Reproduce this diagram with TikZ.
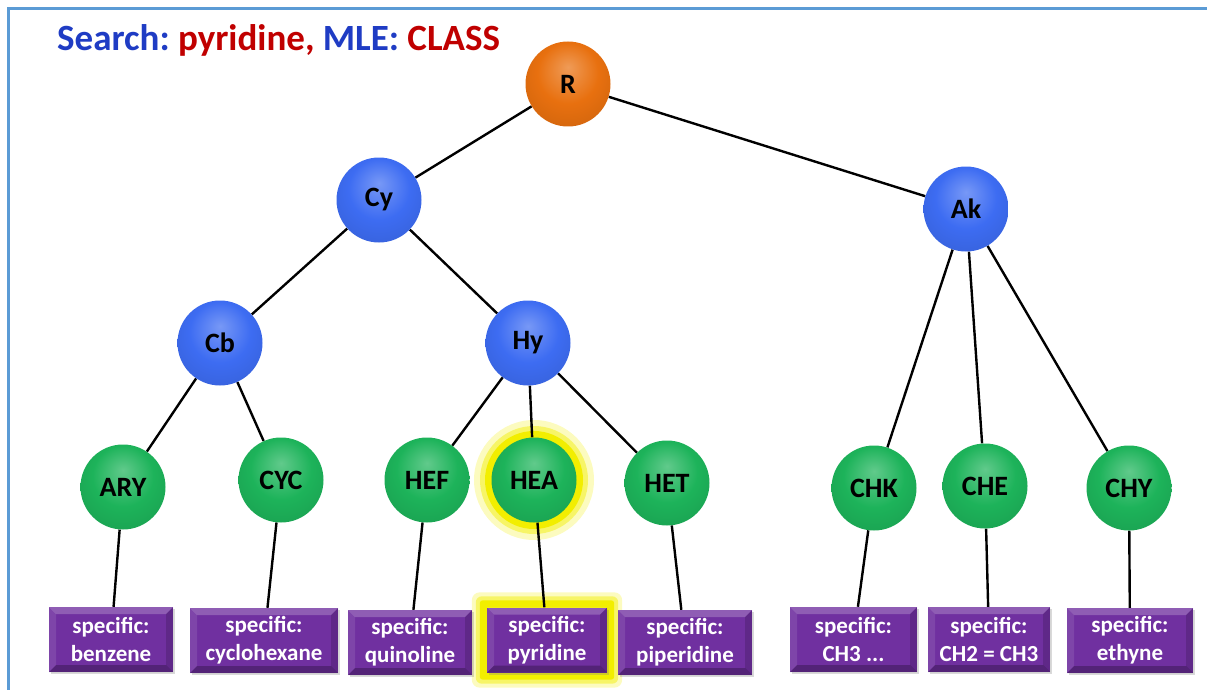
\documentclass[tikz,border=0pt]{standalone}
\usepackage{fontspec}
\setmainfont{Carlito}
\usepackage{tikz}
\usetikzlibrary{positioning,shadows,backgrounds}
\definecolor{tblue}{HTML}{1F3CC4}
\definecolor{tred}{HTML}{C00000}
\definecolor{frameblue}{HTML}{5B9BD5}
\definecolor{sorange}{HTML}{E8700F}
\definecolor{sblue}{HTML}{3D6CF2}
\definecolor{sgreen}{HTML}{1DB35A}
\definecolor{spurple}{HTML}{7030A0}
\definecolor{glow}{HTML}{F2EE00}
\makeatletter
\pgfdeclareradialshading[tikz@ball]{glossy}{\pgfqpoint{0bp}{10bp}}{%
  color(0bp)=(tikz@ball!70!white); color(18bp)=(tikz@ball);
  color(30bp)=(tikz@ball!92!black); color(36bp)=(tikz@ball!82!black);
  color(50bp)=(tikz@ball!82!black)}
\makeatother
\frenchspacing
\tikzset{
  % Glossy sphere for the class nodes.
  sphere/.style  = {circle, minimum size=85pt, inner sep=0pt, ball color=#1, shading=glossy,
                    font=\fontsize{28}{28}\selectfont\bfseries},
  sphere/.default = sgreen,
  % Bevelled purple box for the specific leaves.
  leafbox/.style = {rectangle, fill=spurple, minimum width=#1pt, minimum height=65pt,
                    inner sep=3pt, align=center, text=white,
                    font=\fontsize{23}{28}\selectfont\bfseries,
                    drop shadow={opacity=0.3, shadow xshift=2pt, shadow yshift=-2pt},
                    path picture={
                      \coordinate (bnw) at (path picture bounding box.north west);
                      \coordinate (bne) at (path picture bounding box.north east);
                      \coordinate (bsw) at (path picture bounding box.south west);
                      \coordinate (bse) at (path picture bounding box.south east);
                      \fill[white, opacity=0.22] (bnw) -- (bne) -- ([shift={(-7pt,-7pt)}]bne)
                        -- ([shift={(7pt,-7pt)}]bnw) -- cycle;
                      \fill[white, opacity=0.10] (bnw) -- ([shift={(7pt,-7pt)}]bnw)
                        -- ([shift={(7pt,7pt)}]bsw) -- (bsw) -- cycle;
                      \fill[black, opacity=0.15] (bne) -- (bse) -- ([shift={(-7pt,7pt)}]bse)
                        -- ([shift={(-7pt,-7pt)}]bne) -- cycle;
                      \fill[black, opacity=0.25] (bsw) -- (bse) -- ([shift={(-7pt,7pt)}]bse)
                        -- ([shift={(7pt,7pt)}]bsw) -- cycle;
                    }},
  link/.style    = {line width=2.4pt, black},
}

\begin{document}
\begin{tikzpicture}[x=1pt,y=-1pt]
\useasboundingbox (0,0) rectangle (1207,690);
\draw[frameblue, line width=3pt] (1207,9) -- (8,9) -- (8,690);
% title
\node[anchor=base west, inner sep=0pt, font=\fontsize{37}{37}\selectfont\bfseries] (title) at (57,51)
  {\textcolor{tblue}{Search:} \textcolor{tred}{pyridine,} \textcolor{tblue}{MLE:} \textcolor{tred}{CLASS}};
% upper levels
\node[sphere=sorange] (r)  at (568,84)  {R};
\node[sphere=sblue]   (cy) at (379,200) {Cy};
\node[sphere=sblue]   (ak) at (966,209) {Ak};
\node[sphere=sblue]   (cb) at (220,343) {Cb};
\node[sphere=sblue]   (hy) at (528,343) {Hy};
% classes
\foreach \nm/\lbl/\x/\y in {ary/ARY/123/487, cyc/CYC/281/480, hef/HEF/427/480, hea/HEA/534/480,
                            het/HET/667/483, chk/CHK/874/488, che/CHE/985/486, chy/CHY/1129/488}
  {\node[sphere] (\nm) at (\x,\y) {\lbl};}
% specific leaves
\foreach \nm/\txt/\x/\y/\w in {benz/benzene/111/639.5/124, chex/cyclohexane/264/640.5/148,
                               quin/quinoline/410/642.5/124, pyr/pyridine/547/640/120,
                               pip/piperidine/685/642.5/134, meth/{CH3 ...}/853.5/639.5/127,
                               eth/{CH2 = CH3}/989/639.5/122, yne/ethyne/1130/640.5/126}
  {\node[leafbox=\w] (\nm) at (\x,\y) {specific:\\\txt};}
\begin{scope}[on background layer]
% search hit
\fill[glow!25] (hea) circle (60pt);
\fill[glow!60] (hea) circle (54pt);
\fill[glow]    (hea) circle (49pt);
\fill[glow!25, rounded corners=8pt] ([shift={(-15pt,15pt)}]pyr.north west) rectangle ([shift={(15pt,-15pt)}]pyr.south east);
\fill[glow!60, rounded corners=6pt] ([shift={(-11pt,11pt)}]pyr.north west) rectangle ([shift={(11pt,-11pt)}]pyr.south east);
\fill[glow, rounded corners=3pt]    ([shift={(-7pt,7pt)}]pyr.north west) rectangle ([shift={(7pt,-7pt)}]pyr.south east);
% tree
\foreach \a/\b in {r/cy, r/ak, cy/cb, cy/hy, cb/ary, cb/cyc, hy/hef, hy/hea, hy/het,
                   ak/chk, ak/che, ak/chy, ary/benz, cyc/chex, hef/quin, hea/pyr,
                   het/pip, chk/meth, che/eth, chy/yne}
  {\draw[link] (\a) -- (\b);}
\end{scope}
\end{tikzpicture}
\end{document}
